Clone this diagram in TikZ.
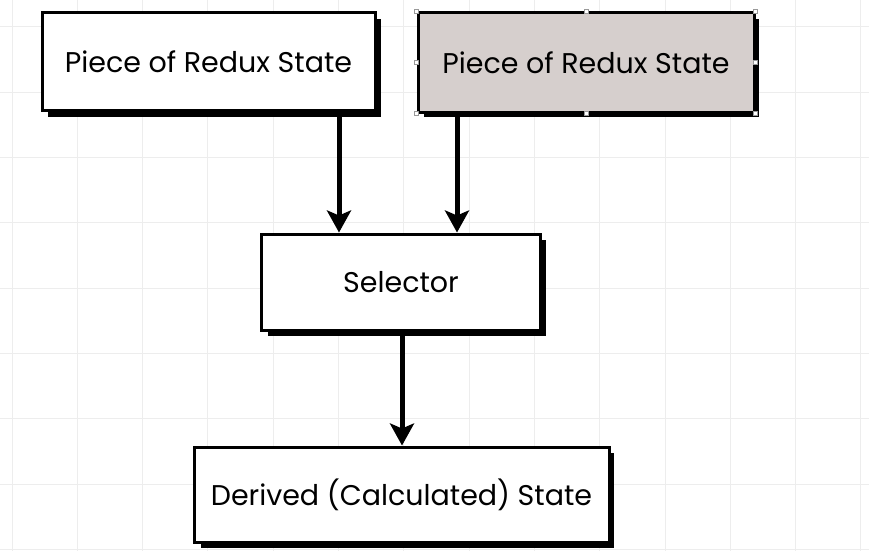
\documentclass[tikz,border=0pt]{standalone}
\usepackage{fontspec}
\setmainfont{Poppins}
\usetikzlibrary{arrows.meta,calc}
\definecolor{gridc}{HTML}{EDEDED}
\definecolor{boxfill}{HTML}{D6CFCD}
\definecolor{handlec}{HTML}{999999}
\tikzset{
  box/.style={draw=black, line width=3pt, fill=white, minimum width=#1, inner sep=0pt, font=\fontsize{28.5}{34}\selectfont},
  arr/.style={line width=5pt, -{Stealth[length=22pt,width=24pt,inset=5pt]}},
  handle/.style={draw=handlec, fill=white, line width=0.6pt, minimum size=4pt, inner sep=0pt},
}
\begin{document}
\begin{tikzpicture}[x=1pt,y=-1pt]
\useasboundingbox (0,0) rectangle (869,551);
\fill[white] (0,0) rectangle (869,551);
% grid
\foreach \x in {12,77.3,142.6,207.9,273.2,338.5,403.8,469.1,534.4,599.7,665,730.3,795.6,860.9}
  \draw[gridc, line width=1pt] (\x,0) -- (\x,551);
\foreach \y in {27,92.3,157.6,222.9,288.2,353.5,418.8,484.1,549.4}
  \draw[gridc, line width=1pt] (0,\y) -- (869,\y);
% shadows
\fill[black] (48,19) rectangle (381,117);
\fill[black] (424,19) rectangle (759,117);
\fill[black] (268,240) rectangle (546,336);
\fill[black] (201,453) rectangle (614,548);
% boxes
\node[box=333pt, minimum height=97pt] (p1) at (208.5,61.5) {Piece of Redux State};
\node[box=336pt, minimum height=99pt, fill=boxfill] (p2) at (586,62.5) {Piece of Redux State};
\node[box=279pt, minimum height=96pt] (sel) at (401,282) {Selector};
\node[box=415pt, minimum height=95pt] (der) at (401.5,494.5) {Derived (Calculated) State};
% selection handles on second box
\foreach \a in {north west,north,north east,east,south east,south,south west,west}
  \node[handle] at ($(p2.\a)$) {};
% arrows
\coordinate (c1) at (339,0);
\coordinate (c2) at (457,0);
\coordinate (c3) at (402,0);
\draw[arr] (p1.south -| c1) -- (c1 |- sel.north);
\draw[arr] (p2.south -| c2) -- (c2 |- sel.north);
\draw[arr] (sel.south -| c3) -- (c3 |- der.north);
\end{tikzpicture}
\end{document}
